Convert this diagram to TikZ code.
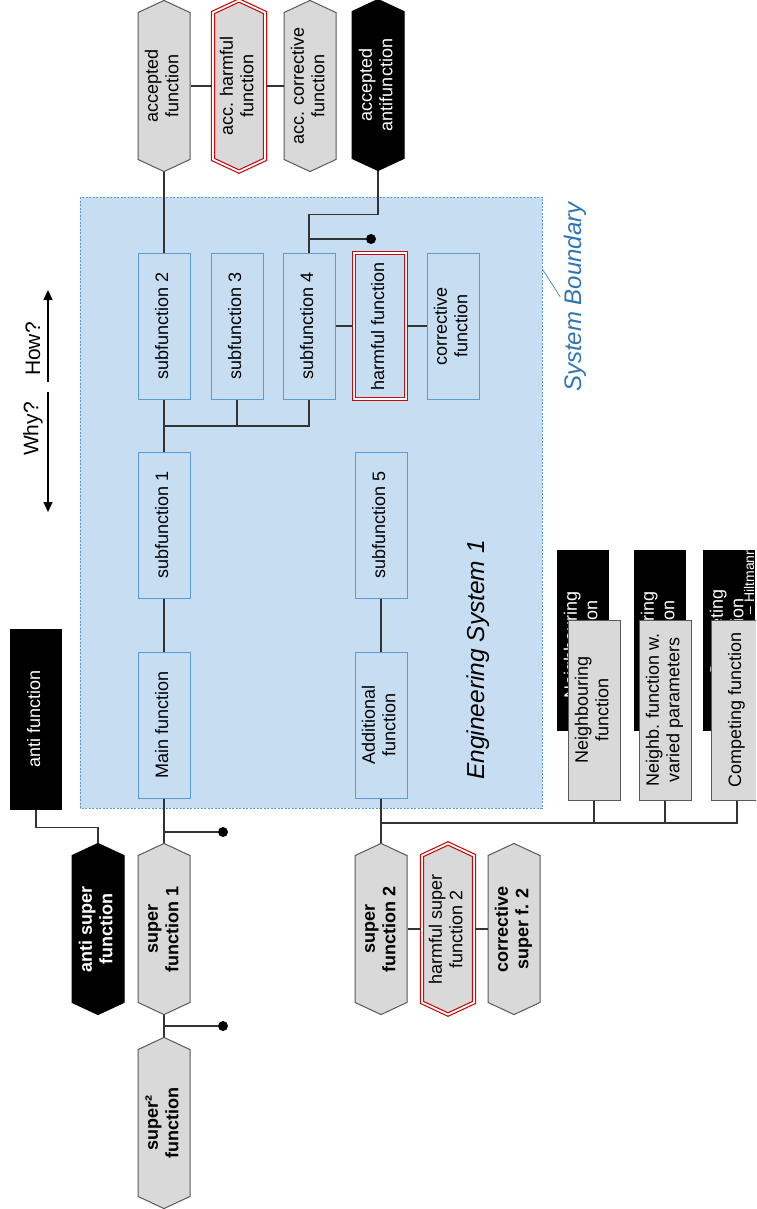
\documentclass[tikz,border=0pt]{standalone}
\usepackage{fontspec}
\setmainfont{Liberation Sans}
\usetikzlibrary{positioning, arrows.meta, shapes.symbols}

\definecolor{sysfill}{RGB}{199,222,242}
\definecolor{sysblue}{RGB}{91,155,213}
\definecolor{labelblue}{RGB}{46,117,182}
\definecolor{hexgray}{RGB}{217,217,217}
\definecolor{harmred}{RGB}{200,10,10}

\newcommand{\vtext}[2][c]{\rotatebox{90}{\begin{tabular}{@{}#1@{}}#2\end{tabular}}}

\begin{document}
\begin{tikzpicture}[x=1pt, y=1pt,
  every node/.style={font=\fontsize{18}{20.5}\selectfont},
  boldtext/.style={font=\fontsize{18}{20.5}\selectfont\bfseries},
  fbox/.style={draw=sysblue, fill=sysfill, line width=1pt, minimum width=52, minimum height=146, inner sep=0},
  hexfun/.style={shape=signal, signal to=north and south, signal pointer angle=130, draw=black!65, fill=hexgray, line width=1pt, minimum width=52, minimum height=166, inner sep=0},
  antihex/.style={hexfun, fill=black, draw=black, text=white},
  harmful/.style={draw=harmred, double=white, double distance=1.8pt, line width=1.2pt},
  antibox/.style={fill=black, text=white, minimum width=52, minimum height=181, inner sep=0},
  neighbox/.style={draw=black!65, fill=hexgray, line width=1pt, minimum width=52, minimum height=180, inner sep=0},
  conn/.style={line width=1.1pt, black!80},
  pindot/.style={circle, fill=black, minimum size=10, inner sep=0}
]
  \useasboundingbox (0,0) rectangle (756,-1209);
  \clip (0,0) rectangle (756,-1209);

  % System boundary
  \draw[sysblue, dash pattern=on 2pt off 1.5pt, fill=sysfill, line width=0.9pt] (80,-197) rectangle (542,-808);
  \node[rotate=90, font=\fontsize{24}{28}\selectfont\itshape, text=labelblue] (sbl) at (575,-297) {System Boundary};
  \coordinate (sbedge) at (543,-270);
  \draw[labelblue, line width=0.6pt] (sbedge) -- (sbl.north);
  \node[rotate=90, font=\fontsize{24.5}{28}\selectfont\itshape] (es) at (478,-660) {Engineering System 1};

  % Why? / How?
  \coordinate (howlo) at (48,-382);
  \coordinate (howhi) at (48,-290);
  \coordinate (whyhi) at (48,-392);
  \coordinate (whylo) at (48,-512);
  \draw[-{Triangle[length=10pt,width=9pt]}, line width=1.3pt] (howlo) -- (howhi);
  \draw[-{Triangle[length=10pt,width=9pt]}, line width=1.3pt] (whyhi) -- (whylo);
  \node[rotate=90, font=\fontsize{21}{24}\selectfont] (how) at (33,-349) {How?};
  \node[rotate=90, font=\fontsize{21}{24}\selectfont] (why) at (33,-429) {Why?};

  % Accepted functions
  \node[hexfun] (acc) at (164,-86) {\vtext{accepted\\function}};
  \node[hexfun, harmful, fill=hexgray] (accharm) at (239,-86) {\vtext{acc. harmful\\function}};
  \node[hexfun] (acccorr) at (310,-86) {\vtext{acc. corrective\\function}};
  \node[antihex] (accanti) at (378,-85) {\vtext{accepted\\antifunction}};

  % Inside the system
  \node[fbox] (sub2) at (164,-326) {\vtext{subfunction 2}};
  \node[fbox] (sub3) at (237,-326) {\vtext{subfunction 3}};
  \node[fbox] (sub4) at (309,-326) {\vtext{subfunction 4}};
  \node[fbox, harmful, fill=sysfill] (harm) at (380,-326) {\vtext{harmful function}};
  \node[fbox] (corr) at (453,-326) {\vtext{corrective\\function}};
  \node[fbox] (sub1) at (164,-525) {\vtext{subfunction 1}};
  \node[fbox] (sub5) at (381,-525) {\vtext{subfunction 5}};
  \node[fbox] (main) at (164,-725) {\vtext{Main function}};
  \node[fbox] (add) at (381,-725) {\vtext{Additional\\function}};

  % Super functions
  \node[antibox] (anti) at (36,-719) {\vtext{anti function}};
  \node[antihex, boldtext] (antisup) at (98,-929) {\vtext{anti super\\function}};
  \node[hexfun, boldtext] (sup1) at (164,-929) {\vtext{super\\function 1}};
  \node[hexfun, boldtext] (supsq) at (164,-1123) {\vtext{super²\\function}};
  \node[hexfun, boldtext] (sup2) at (381,-929) {\vtext{super\\function 2}};
  \node[hexfun, harmful, fill=hexgray] (harmsup2) at (448,-929) {\vtext{harmful super\\function 2}};
  \node[hexfun, boldtext] (corrsup2) at (514,-929) {\vtext{corrective\\super f. 2}};

  % Neighbouring functions
  \node[antibox] (nb1bg) at (583,-640) {\vtext[r]{Neighbouring\kern10pt\\function\kern19pt}};
  \node[antibox] (nb2bg) at (660,-640) {\vtext[r]{Neighbouring\kern10pt\\function\kern19pt}};
  \node[antibox] (nb3bg) at (729,-640) {\vtext[r]{\kern20pt Competing\kern6pt\\function\kern15pt}};
  \node[rotate=90, anchor=west, text=white, font=\fontsize{14}{16}\selectfont] (nb3note) at (749,-618) {-- Hiltmann};
  \node[neighbox] (nb1) at (594,-710) {\vtext{Neighbouring\\function}};
  \node[neighbox] (nb2) at (665,-710) {\vtext{Neighb. function w.\\varied parameters}};
  \node[neighbox] (nb3) at (737,-710) {\vtext{Competing function}};

  % Connections
  \draw[conn] (acc.south) -- (sub2.north);
  \draw[conn] (acc.east) -- (accharm.west);
  \draw[conn] (accharm.east) -- (acccorr.west);
  \draw[conn] (accanti.south) -- ++(0,-43) -| (sub4.north);
  \node[pindot] (dot0) at (371,-239) {};
  \draw[conn] (dot0) -- (dot0 -| sub4.north);
  \draw[conn] (sub2.south) -- (sub1.north);
  \coordinate (bus1) at (164,-426);
  \draw[conn] (sub4.south) |- (bus1);
  \draw[conn] (sub3.south) -- (sub3.south |- bus1);
  \draw[conn] (sub4.east) -- (harm.west);
  \draw[conn] (harm.east) -- (corr.west);
  \draw[conn] (sub1.south) -- (main.north);
  \draw[conn] (sub5.south) -- (add.north);
  \draw[conn] (main.south) -- (sup1.north);
  \draw[conn] (sup1.south) -- (supsq.north);
  \node[pindot] (dot1) at (223,-832) {};
  \node[pindot] (dot2) at (223,-1026) {};
  \draw[conn] (dot1) -- (dot1 -| main.south);
  \draw[conn] (dot2) -- (dot2 -| sup1.south);
  \draw[conn] (anti.south) -- ++(0,-18) -| (antisup.north);
  \draw[conn] (add.south) -- (sup2.north);
  \coordinate (bus2) at (381,-823);
  \draw[conn] (nb3.south) |- (bus2);
  \draw[conn] (nb1.south) -- (nb1.south |- bus2);
  \draw[conn] (nb2.south) -- (nb2.south |- bus2);
  \draw[conn] (sup2.east) -- (harmsup2.west);
  \draw[conn] (harmsup2.east) -- (corrsup2.west);
\end{tikzpicture}
\end{document}
